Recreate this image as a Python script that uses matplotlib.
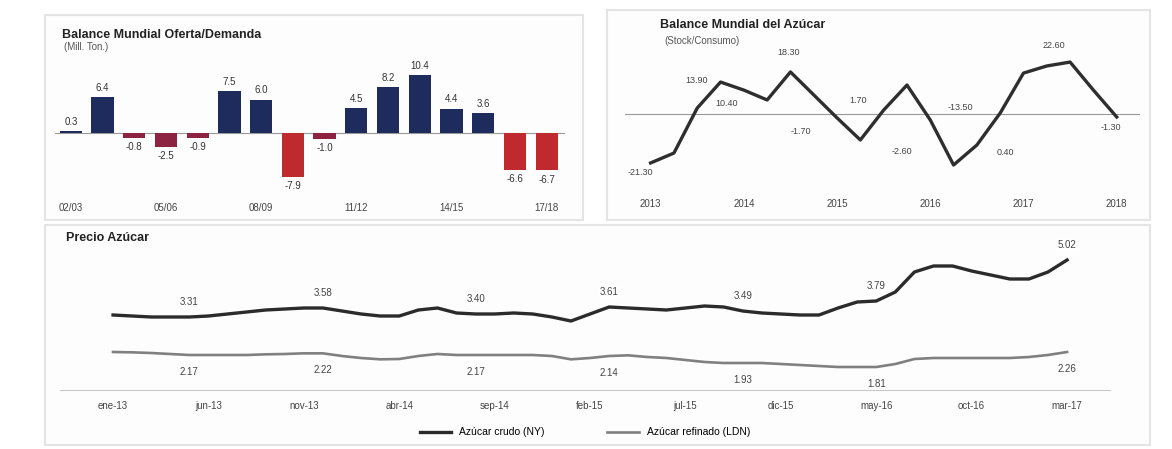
import matplotlib
matplotlib.use("Agg")
import matplotlib.pyplot as plt
import numpy as np
from matplotlib.patches import Rectangle

plt.rcParams['font.family'] = ['Liberation Sans', 'DejaVu Sans']

# --- datos ---
temporadas = ['02/03', '03/04', '04/05', '05/06', '06/07', '07/08', '08/09', '09/10',
              '10/11', '11/12', '12/13', '13/14', '14/15', '15/16', '16/17', '17/18']
balance = [0.3, 6.4, -0.8, -2.5, -0.9, 7.5, 6.0, -7.9, -1.0, 4.5, 8.2, 10.4, 4.4, 3.6, -6.6, -6.7]

trim_labels = ['2013', '2014', '2015', '2016', '2017', '2018']
var_stock = [-21.3, -17.0, 2.6, 13.9, 10.4, 6.1, 18.3, 8.3, -1.7, -11.3, 1.7,
             12.6, -2.6, -22.2, -13.5, 0.4, 17.8, 20.9, 22.6, 10.4, -1.3]
stock_lbl_idx = [0, 3, 4, 6, 8, 10, 12, 14, 15, 18, 20]

meses = ['ene-13', 'jun-13', 'nov-13', 'abr-14', 'sep-14', 'feb-15',
         'jul-15', 'dic-15', 'may-16', 'oct-16', 'mar-17']
crudo = [3.37, 3.34, 3.31, 3.31, 3.31, 3.34, 3.40, 3.46, 3.52, 3.55, 3.58, 3.58, 3.49,
         3.40, 3.34, 3.34, 3.52, 3.58, 3.43, 3.40, 3.40, 3.43, 3.40, 3.31, 3.19, 3.40,
         3.61, 3.58, 3.55, 3.52, 3.58, 3.64, 3.61, 3.49, 3.43, 3.40, 3.37, 3.37, 3.58,
         3.76, 3.79, 4.06, 4.66, 4.84, 4.84, 4.69, 4.57, 4.45, 4.45, 4.66, 5.02]
refinado = [2.26, 2.25, 2.23, 2.20, 2.17, 2.17, 2.17, 2.17, 2.19, 2.20, 2.22, 2.22, 2.14,
            2.08, 2.04, 2.05, 2.14, 2.20, 2.17, 2.17, 2.17, 2.17, 2.17, 2.14, 2.04, 2.08,
            2.14, 2.16, 2.11, 2.08, 2.02, 1.96, 1.93, 1.93, 1.93, 1.90, 1.87, 1.84, 1.81,
            1.81, 1.81, 1.90, 2.05, 2.08, 2.08, 2.08, 2.08, 2.08, 2.11, 2.17, 2.26]
precio_lbl_idx = [4, 11, 19, 26, 33, 40, 50]

W, H = 1172, 449
fig = plt.figure(figsize=(W / 100, H / 100), dpi=100, facecolor='white')


def box(x0, y0, x1, y1):
    # rectangulo en pixeles (origen arriba a la izquierda)
    return [x0 / W, 1 - y1 / H, (x1 - x0) / W, (y1 - y0) / H]


# paneles de fondo
for (x0, y0, x1, y1) in [(45, 15, 583, 220), (607, 10, 1150, 220), (45, 225, 1150, 445)]:
    fig.patches.append(Rectangle((x0 / W, 1 - y1 / H), (x1 - x0) / W, (y1 - y0) / H,
                                 transform=fig.transFigure, facecolor='#fdfdfd',
                                 edgecolor='#e4e4e4', lw=1.5, zorder=-5))

# ---------------- balance mundial (barras) ----------------
ax1 = fig.add_axes(box(55, 65, 565, 195))
ax1.patch.set_alpha(0)
x = np.arange(len(balance))
cols = []
for v in balance:
    if v >= 0:
        cols.append('#1d2c5c')
    elif abs(v) < 3:
        cols.append('#8e2341')
    else:
        cols.append('#bf2a2e')
ax1.bar(x, balance, width=0.7, color=cols, zorder=2)
ax1.axhline(0, color='#9a9a9a', lw=0.8, zorder=1)
for i, v in enumerate(balance):
    if v >= 0:
        ax1.annotate(f'{v:.1f}', (i, v), xytext=(0, 3), textcoords='offset points',
                     ha='center', va='bottom', fontsize=7, color='#333333')
    else:
        ax1.annotate(f'{v:.1f}', (i, v), xytext=(0, -3), textcoords='offset points',
                     ha='center', va='top', fontsize=7, color='#333333')
ax1.set_xlim(-0.5, 15.58)
ax1.set_ylim(-11.1, 12.2)
ax1.set_xticks(x[::3])
ax1.set_xticklabels(temporadas[::3], fontsize=7, color='#444444')
ax1.tick_params(axis='x', length=0, pad=6)
ax1.set_yticks([])
for s in ax1.spines.values():
    s.set_visible(False)
fig.text(62 / W, 1 - 35 / H, 'Balance Mundial Oferta/Demanda', fontsize=9,
         fontweight='bold', color='#222222', va='center')
fig.text(64 / W, 1 - 47 / H, '(Mill. Ton.)', fontsize=7, color='#555555', va='center')

# ---------------- variacion stock (linea) ----------------
ax2 = fig.add_axes(box(625, 40, 1140, 185))
ax2.patch.set_alpha(0)
xs = np.arange(len(var_stock))
ax2.plot(xs, var_stock, color='#2e2e2e', lw=2.4, zorder=3)
ax2.axhline(0, color='#9a9a9a', lw=0.8, zorder=1)
# desplazamiento de cada etiqueta (px)
offs = [(-10, -10), (-24, 2), (-17, -13), (-2, 19), (-36, -14), (-26, 10),
        (-28, -32), (-17, 38), (5, -39), (-16, 17), (-6, -11)]
for i, (dx, dy) in zip(stock_lbl_idx, offs):
    v = var_stock[i]
    ax2.annotate(f'{v:.2f}', (i, v), xytext=(dx * 0.72, dy * 0.72), textcoords='offset points',
                 ha='center', va='center', fontsize=6.5, color='#444444')
ax2.set_xlim(-1.1, 21.0)
ax2.set_ylim(-30.9, 32.2)
ax2.set_xticks(xs[::4])
ax2.set_xticklabels(trim_labels, fontsize=7, color='#444444')
ax2.tick_params(axis='x', length=0, pad=10)
ax2.set_yticks([])
for s in ax2.spines.values():
    s.set_visible(False)
fig.text(660 / W, 1 - 25 / H, 'Balance Mundial del Azúcar', fontsize=9,
         fontweight='bold', color='#222222', va='center')
fig.text(664 / W, 1 - 41 / H, '(Stock/Consumo)', fontsize=7, color='#555555', va='center')

# ---------------- precio azucar ----------------
ax3 = fig.add_axes(box(60, 250, 1110, 390))
ax3.patch.set_alpha(0)
xm = np.arange(len(crudo))
ax3.plot(xm, crudo, color='#2b2b2b', lw=2.4, label='Azúcar crudo (NY)', zorder=3)
ax3.plot(xm, refinado, color='#808080', lw=1.9, label='Azúcar refinado (LDN)', zorder=3)
for i in precio_lbl_idx:
    ax3.annotate(f'{crudo[i]:.2f}', (i, crudo[i]), xytext=(0, 11), textcoords='offset points',
                 ha='center', va='center', fontsize=7, color='#444444',
                 bbox=dict(boxstyle='square,pad=0.2', fc='white', ec='none', alpha=0.8))
    ax3.annotate(f'{refinado[i]:.2f}', (i, refinado[i]), xytext=(0, -12), textcoords='offset points',
                 ha='center', va='center', fontsize=7, color='#444444')
ax3.set_xlim(-2.78, 52.25)
ax3.set_ylim(1.12, 5.32)
ax3.set_xticks(xm[::5])
ax3.set_xticklabels(meses, fontsize=7, color='#444444')
ax3.tick_params(axis='x', length=0, pad=8)
ax3.set_yticks([])
for s in ['top', 'left', 'right']:
    ax3.spines[s].set_visible(False)
ax3.spines['bottom'].set_color('#c8c8c8')
ax3.legend(loc='upper center', bbox_to_anchor=(0.5, -0.2), ncol=2, frameon=False,
           fontsize=7.5, handlelength=3, columnspacing=6)
fig.text(66 / W, 1 - 238 / H, 'Precio Azúcar', fontsize=9, fontweight='bold',
         color='#222222', va='center')

fig.savefig('out.png', dpi=100, facecolor=fig.get_facecolor())
